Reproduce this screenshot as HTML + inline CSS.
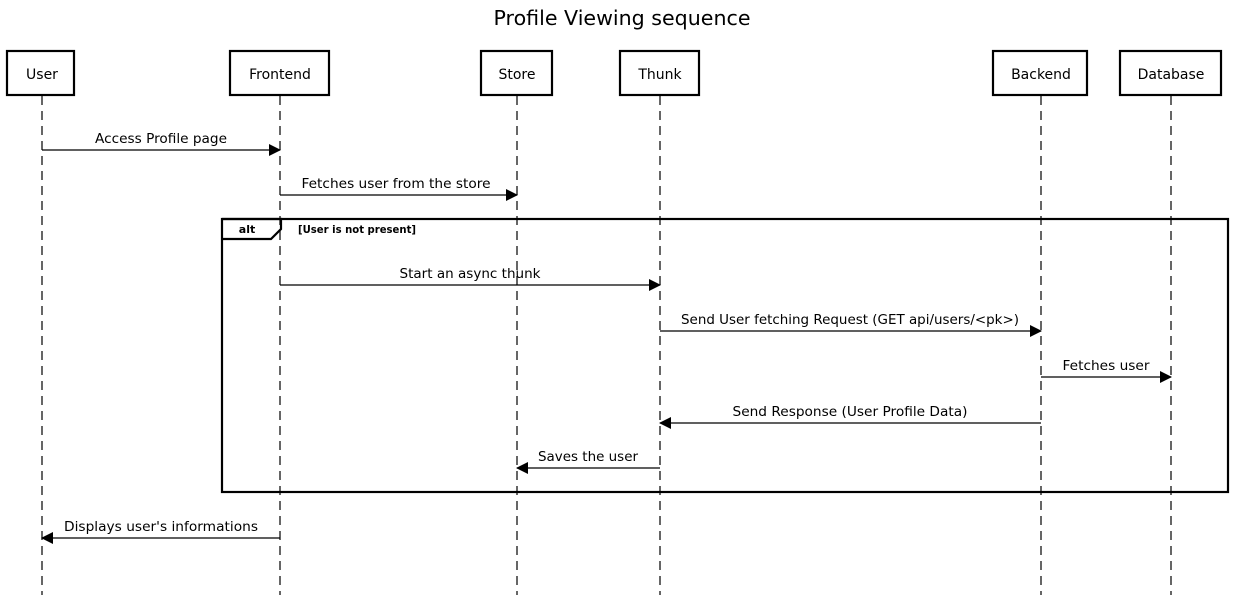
<!DOCTYPE html>
<html><head><meta charset="utf-8"><style>
html,body{margin:0;padding:0;background:#fff;}
svg{display:block;}
text{font-family:"DejaVu Sans","Liberation Sans",sans-serif;fill:#000;}
</style></head><body>
<svg width="1245" height="595" viewBox="0 0 1245 595" xmlns="http://www.w3.org/2000/svg">
<defs><marker id="a" markerWidth="12" markerHeight="12" refX="11" refY="6" orient="auto" markerUnits="userSpaceOnUse"><path d="M0,0 L12,6 L0,12 Z" fill="#000"/></marker></defs>
<text x="622" y="25" font-size="20" text-anchor="middle" textLength="257" lengthAdjust="spacingAndGlyphs">Profile Viewing sequence</text>
<g stroke="#333" stroke-width="1.5" stroke-dasharray="9,6" fill="none">
<line x1="42" y1="96" x2="42" y2="595"/>
<line x1="280" y1="96" x2="280" y2="595"/>
<line x1="517" y1="96" x2="517" y2="595"/>
<line x1="660" y1="96" x2="660" y2="595"/>
<line x1="1041" y1="96" x2="1041" y2="595"/>
<line x1="1171" y1="96" x2="1171" y2="595"/>
</g>
<g stroke="#000" stroke-width="2.2" fill="#fff">
<rect x="7" y="51" width="67" height="44"/>
<rect x="230" y="51" width="99" height="44"/>
<rect x="481" y="51" width="71" height="44"/>
<rect x="620" y="51" width="79" height="44"/>
<rect x="993" y="51" width="94" height="44"/>
<rect x="1120" y="51" width="101" height="44"/>
</g>
<g font-size="14" text-anchor="middle">
<text x="42" y="79">User</text>
<text x="280" y="79">Frontend</text>
<text x="517" y="79">Store</text>
<text x="660" y="79">Thunk</text>
<text x="1041" y="79">Backend</text>
<text x="1171" y="79">Database</text>
</g>
<rect x="222" y="219" width="1006" height="273" fill="none" stroke="#000" stroke-width="2.2"/>
<path d="M222,219 L281,219 L281,229 L271,239 L222,239" fill="none" stroke="#000" stroke-width="2.2"/>
<text x="247" y="233" font-size="11" font-weight="bold" text-anchor="middle">alt</text>
<text x="298" y="233" font-size="11" font-weight="bold" textLength="118" lengthAdjust="spacingAndGlyphs">[User is not present]</text>
<g stroke="#000" stroke-width="1.3" marker-end="url(#a)">
<line x1="42" y1="150" x2="280" y2="150"/>
<line x1="280" y1="195" x2="517" y2="195"/>
<line x1="280" y1="285" x2="660" y2="285"/>
<line x1="660" y1="331" x2="1041" y2="331"/>
<line x1="1041" y1="377" x2="1171" y2="377"/>
<line x1="1041" y1="423" x2="660" y2="423"/>
<line x1="660" y1="468" x2="517" y2="468"/>
<line x1="280" y1="538" x2="42" y2="538"/>
</g>
<g font-size="13.5" text-anchor="middle">
<text x="161" y="143" textLength="132" lengthAdjust="spacingAndGlyphs">Access Profile page</text>
<text x="396" y="188" textLength="189" lengthAdjust="spacingAndGlyphs">Fetches user from the store</text>
<text x="470" y="278" textLength="141" lengthAdjust="spacingAndGlyphs">Start an async thunk</text>
<text x="850" y="324" textLength="338" lengthAdjust="spacingAndGlyphs">Send User fetching Request (GET api/users/&lt;pk&gt;)</text>
<text x="1106" y="370" textLength="87" lengthAdjust="spacingAndGlyphs">Fetches user</text>
<text x="850" y="416" textLength="235" lengthAdjust="spacingAndGlyphs">Send Response (User Profile Data)</text>
<text x="588" y="461" textLength="100" lengthAdjust="spacingAndGlyphs">Saves the user</text>
<text x="161" y="531" textLength="194" lengthAdjust="spacingAndGlyphs">Displays user's informations</text>
</g>
</svg>
</body></html>
